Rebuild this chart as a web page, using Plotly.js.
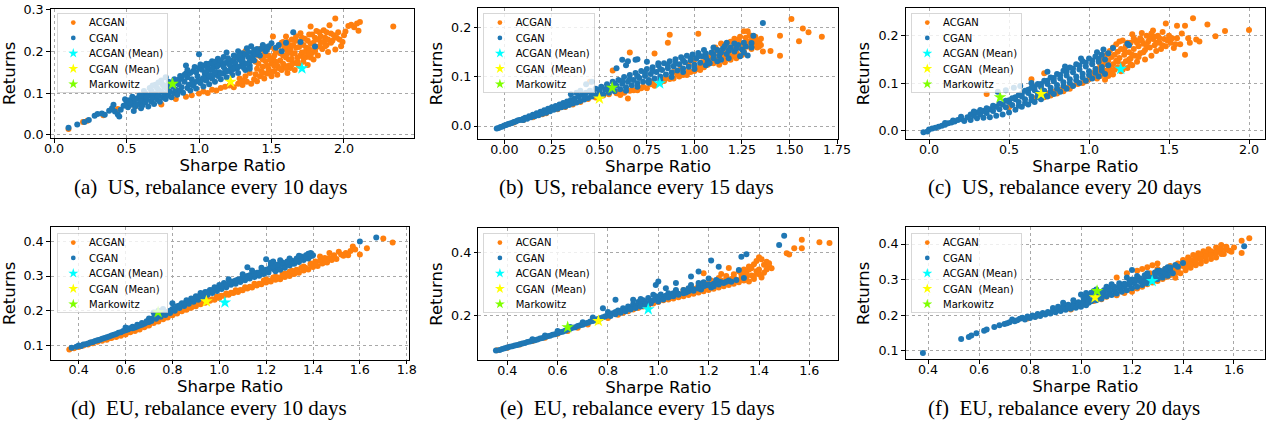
<!DOCTYPE html>
<html>
<head>
<meta charset="utf-8">
<script src="https://cdn.plot.ly/plotly-3.0.1.min.js"></script>
<style>
html,body{margin:0;padding:0;background:#fff;}
#chart{width:1266px;height:422px;}
</style>
</head>
<body>
<div id="chart"></div>
<script>
// ---------------- data (x = Sharpe Ratio, y = Returns) ----------------
const seriesNames = ['ACGAN', 'CGAN', 'ACGAN (Mean)', 'CGAN \u00a0(Mean)', 'Markowitz'];
const captions = ['(a)\u00a0\u00a0US, rebalance every 10 days', '(b)\u00a0\u00a0US, rebalance every 15 days', '(c)\u00a0\u00a0US, rebalance every 20 days',
                  '(d)\u00a0\u00a0EU, rebalance every 10 days', '(e)\u00a0\u00a0EU, rebalance every 15 days', '(f)\u00a0\u00a0EU, rebalance every 20 days'];

// (a) US, 10 days
const A_ACGAN = [[0.10,0.014],[0.20,0.031],[0.23,0.034],[0.34,0.047],[0.44,0.062],[0.56,0.068],[0.74,0.073],[0.84,0.086],[0.91,0.091],[0.95,0.095],[1.00,0.099],[1.03,0.104],[1.06,0.100],[1.09,0.108],[1.12,0.106],[1.15,0.112],[1.18,0.115],[1.21,0.118],[1.24,0.114],[1.27,0.122],[1.30,0.119],[1.33,0.127],[1.36,0.122],[1.28,0.135],[1.32,0.140],[1.35,0.148],[1.30,0.130],[1.25,0.185],[1.28,0.195],[1.32,0.200],
[1.38,0.133],[1.39,0.145],[1.40,0.158],[1.40,0.128],[1.41,0.170],[1.42,0.140],[1.43,0.185],[1.43,0.152],[1.44,0.163],[1.45,0.198],[1.45,0.135],[1.46,0.176],[1.47,0.147],[1.48,0.190],[1.48,0.158],[1.49,0.210],[1.50,0.170],[1.50,0.140],[1.51,0.235],[1.51,0.183],[1.52,0.153],[1.53,0.198],[1.54,0.165],[1.54,0.144],[1.55,0.212],[1.56,0.178],[1.57,0.155],[1.58,0.222],[1.58,0.190],[1.59,0.165],[1.60,0.235],[1.60,0.205],[1.61,0.148],[1.62,0.180],[1.62,0.215],[1.63,0.160],[1.64,0.228],[1.64,0.195],[1.65,0.172],[1.66,0.155],[1.67,0.236],[1.67,0.208],[1.68,0.185],[1.69,0.165],[1.70,0.243],[1.70,0.220],[1.71,0.197],[1.72,0.175],[1.73,0.230],[1.74,0.208],[1.74,0.186],[1.75,0.167],[1.76,0.240],[1.77,0.259],[1.77,0.218],[1.78,0.196],[1.79,0.180],[1.80,0.232],[1.81,0.210],[1.82,0.190],[1.83,0.245],[1.84,0.222],[1.85,0.205],[1.86,0.250],[1.87,0.232],[1.88,0.215],[1.89,0.198],[1.90,0.262],[1.91,0.242],[1.92,0.225],[1.94,0.278],[1.94,0.204],[1.96,0.245],[1.97,0.228],[1.98,0.212],[2.00,0.238],[2.01,0.247],[2.03,0.260],[2.05,0.263],[2.07,0.257],[2.09,0.266],[2.10,0.249],[2.11,0.270],[2.34,0.259],
[1.39,0.175],[1.41,0.190],[1.42,0.205],[1.44,0.180],[1.46,0.190],[1.47,0.165],[1.49,0.180],[1.50,0.150],[1.52,0.190],[1.52,0.205],[1.53,0.175],[1.55,0.160],[1.56,0.195],[1.57,0.220],[1.58,0.170],[1.59,0.210],[1.60,0.185],[1.61,0.195],[1.61,0.222],[1.62,0.165],[1.63,0.205],[1.64,0.182],[1.65,0.215],[1.66,0.195],[1.67,0.225],[1.68,0.170],[1.69,0.210],[1.70,0.190],[1.71,0.232],[1.72,0.215],[1.73,0.198],[1.75,0.225],[1.76,0.205],[1.77,0.185],[1.78,0.240],[1.79,0.220],[1.80,0.205],[1.81,0.248],[1.82,0.228],[1.83,0.212],[1.84,0.236],[1.86,0.222],[1.87,0.212],[1.88,0.245],[1.89,0.228],[1.91,0.220],[1.93,0.238],[1.95,0.232],[1.99,0.222],[1.44,0.148],[1.48,0.152],[1.52,0.165],[1.56,0.158],[1.60,0.160],[1.64,0.168],[1.68,0.175],[1.72,0.185],[1.76,0.195],[1.80,0.200]];
const A_CGAN = [[0.10,0.017],[0.16,0.025],[0.21,0.031],[0.24,0.036],[0.28,0.046],[0.30,0.050],[0.33,0.051],[0.35,0.048],[0.38,0.058],[0.40,0.064],[0.41,0.072],[0.42,0.056],[0.44,0.049],[0.45,0.044],[0.46,0.060],[0.48,0.070],[0.49,0.085],[0.50,0.076],
[0.51,0.066],[0.52,0.083],[0.53,0.072],[0.54,0.091],[0.55,0.057],[0.55,0.079],[0.56,0.068],[0.57,0.087],[0.58,0.074],[0.59,0.095],[0.60,0.064],[0.60,0.082],[0.61,0.071],[0.62,0.090],[0.63,0.099],[0.63,0.078],[0.64,0.085],[0.65,0.068],[0.66,0.094],[0.67,0.106],[0.67,0.080],[0.68,0.088],[0.69,0.074],[0.70,0.098],[0.71,0.112],[0.71,0.085],[0.72,0.093],[0.73,0.079],[0.74,0.104],[0.75,0.120],[0.75,0.090],[0.76,0.098],[0.77,0.086],[0.78,0.109],[0.79,0.127],[0.79,0.094],[0.80,0.103],[0.81,0.090],[0.82,0.115],[0.83,0.133],[0.83,0.100],[0.84,0.108],[0.85,0.096],[0.86,0.121],[0.87,0.141],[0.87,0.106],[0.88,0.114],[0.89,0.101],[0.90,0.127],[0.91,0.166],[0.91,0.147],[0.92,0.112],[0.93,0.120],[0.94,0.106],[0.95,0.133],[0.96,0.153],[0.96,0.118],[0.97,0.126],[0.98,0.111],[0.99,0.140],[1.00,0.193],[1.00,0.160],[1.01,0.124],[1.02,0.132],[1.03,0.116],[1.04,0.147],[1.05,0.170],[1.05,0.130],[1.06,0.138],[1.07,0.121],[1.08,0.155],[1.09,0.176],[1.09,0.135],[1.10,0.144],[1.11,0.127],[1.12,0.162],[1.13,0.182],[1.13,0.141],[1.14,0.150],[1.15,0.133],[1.16,0.168],[1.17,0.186],[1.17,0.147],[1.18,0.156],[1.19,0.197],[1.19,0.138],[1.20,0.174],[1.21,0.153],[1.22,0.162],[1.23,0.143],[1.24,0.190],[1.25,0.168],[1.26,0.158],[1.27,0.200],[1.27,0.148],[1.28,0.180],[1.29,0.165],[1.30,0.195],[1.31,0.172],[1.32,0.155],[1.33,0.207],[1.34,0.186],[1.35,0.165],[1.36,0.212],[1.37,0.196],[1.38,0.178],[1.40,0.205],[1.42,0.190],[1.44,0.215],[1.46,0.200],[1.48,0.212],[1.50,0.219],[1.53,0.208],[1.55,0.215],[1.57,0.200],[1.60,0.220],[1.65,0.245],[1.70,0.222],[1.80,0.211],
[0.62,0.105],[0.66,0.112],[0.70,0.120],[0.74,0.130],[0.77,0.138],[0.68,0.118],[0.72,0.125],
[0.52,0.078],[0.56,0.086],[0.60,0.093],[0.64,0.090],[0.68,0.100],[0.72,0.108],[0.76,0.115],[0.80,0.122],[0.84,0.128],[0.88,0.134],[0.92,0.138],[0.94,0.148],[0.98,0.150],[1.02,0.156],[1.03,0.165],[1.06,0.160],[1.07,0.170],[1.10,0.165],[1.11,0.175],[1.14,0.170],[1.15,0.178],[1.18,0.172],[1.20,0.183],[1.22,0.178],[1.24,0.176],[1.26,0.186],[1.28,0.190],[1.30,0.182],[1.32,0.192],[1.34,0.198],[1.35,0.176],[1.37,0.185],[1.38,0.203],[1.39,0.192],[1.41,0.198],[1.43,0.206],[1.45,0.210],[1.47,0.205],[0.90,0.144],[0.86,0.132],[0.82,0.124],[0.78,0.118],[0.92,0.155],[0.97,0.162],[1.01,0.168],[1.05,0.150],[1.09,0.158],[1.13,0.165],[1.17,0.162],[1.21,0.168],[1.25,0.172],[1.29,0.178],[1.33,0.170],[0.95,0.122],[0.99,0.128],[1.03,0.136],[1.07,0.142],[1.11,0.150],[1.15,0.146],[1.19,0.152],[1.23,0.156],[1.27,0.162],[1.31,0.160],[1.35,0.158]];
const A_ACGAN_MEAN = [[1.71,0.159]];
const A_CGAN_MEAN = [[1.218,0.127]];
const A_MARKOWITZ = [[0.817,0.122]];

// (b) US, 15 days
const B_ACGAN = [[0.05,0.007],[0.10,0.012],[0.15,0.018],[0.20,0.024],[0.22,0.026],[0.28,0.034],[0.32,0.039],[0.36,0.044],[0.40,0.049],[0.44,0.055],[0.45,0.090],[0.48,0.058],[0.52,0.062],[0.55,0.065],[0.57,0.113],[0.59,0.067],[0.61,0.063],[0.65,0.056],[0.66,0.150],[0.68,0.073],[0.70,0.073],[0.72,0.077],[0.75,0.077],[0.77,0.085],[0.79,0.082],[0.79,0.148],[0.82,0.088],[0.84,0.092],[0.86,0.170],[0.87,0.186],[0.87,0.096],[0.89,0.097],[0.89,0.110],[0.92,0.101],[0.94,0.104],[0.96,0.104],[0.98,0.110],[1.00,0.112],[1.02,0.188],[1.02,0.116],[1.03,0.114],[1.05,0.120],[1.06,0.128],[1.07,0.125],[1.08,0.140],[1.09,0.130],[1.10,0.128],[1.10,0.150],[1.11,0.160],[1.12,0.135],[1.13,0.145],[1.14,0.138],[1.14,0.168],[1.15,0.152],[1.16,0.142],[1.17,0.138],[1.17,0.160],[1.18,0.148],[1.19,0.172],[1.20,0.155],[1.20,0.142],[1.21,0.165],[1.22,0.150],[1.23,0.176],[1.23,0.145],[1.24,0.160],[1.25,0.168],[1.26,0.193],[1.26,0.152],[1.27,0.180],[1.28,0.193],[1.28,0.162],[1.29,0.172],[1.30,0.157],[1.31,0.177],[1.32,0.165],[1.33,0.160],[1.34,0.172],[1.35,0.165],[1.36,0.152],[1.40,0.153],[1.45,0.143],[1.45,0.184],[1.51,0.218],[1.55,0.173],[1.57,0.199],[1.60,0.191],[1.67,0.182],[0.93,0.118],[0.97,0.125],[1.00,0.135],[1.04,0.130],
[1.06,0.135],[1.09,0.145],[1.12,0.155],[1.15,0.165],[1.18,0.160],[1.21,0.178],[1.22,0.138],[1.24,0.182],[1.25,0.145],[1.27,0.170],[1.29,0.185],[1.30,0.175],[1.31,0.165],[1.32,0.182],[1.33,0.175],[1.34,0.162],[1.35,0.178],[1.19,0.135],[1.16,0.130],[1.13,0.125],[0.78,0.090],[0.85,0.098],[0.91,0.105],[0.97,0.112],[1.03,0.122],[0.60,0.070],[0.63,0.068],[0.66,0.072],[0.73,0.080]];
const B_CGAN = [[-0.04,-0.005],[-0.03,-0.004],[-0.02,-0.002],[-0.01,-0.001],[0.00,0.001],[0.01,0.002],[0.02,0.004],[0.03,0.005],[0.04,0.006],[0.05,0.008],[0.06,0.009],[0.07,0.011],[0.08,0.012],[0.09,0.013],[0.10,0.015],[0.10,0.012],[0.11,0.017],[0.12,0.015],[0.13,0.020],[0.14,0.018],[0.15,0.023],[0.16,0.020],[0.17,0.026],[0.18,0.022],[0.19,0.029],[0.20,0.025],[0.21,0.032],[0.22,0.027],[0.23,0.035],[0.24,0.030],[0.25,0.038],[0.26,0.033],[0.27,0.041],[0.28,0.035],[0.29,0.044],[0.30,0.038],[0.31,0.047],[0.32,0.040],[0.33,0.050],[0.34,0.043],[0.35,0.053],[0.36,0.046],[0.37,0.056],[0.38,0.048],[0.39,0.060],[0.40,0.051],[0.41,0.064],[0.42,0.054],[0.43,0.068],[0.44,0.057],[0.45,0.072],[0.46,0.060],[0.47,0.066],[0.48,0.076],[0.49,0.062],[0.50,0.070],[0.51,0.080],[0.52,0.064],[0.53,0.074],[0.54,0.085],[0.55,0.068],[0.56,0.078],[0.57,0.090],[0.58,0.071],[0.59,0.082],[0.60,0.094],[0.61,0.075],[0.62,0.086],[0.62,0.135],[0.63,0.100],[0.64,0.079],[0.65,0.090],[0.65,0.132],[0.66,0.104],[0.67,0.083],[0.68,0.094],[0.69,0.108],[0.70,0.136],[0.70,0.087],[0.71,0.098],[0.72,0.112],[0.73,0.090],[0.74,0.102],[0.75,0.116],[0.76,0.094],[0.77,0.106],[0.78,0.120],[0.79,0.097],[0.80,0.110],[0.81,0.124],[0.82,0.101],[0.83,0.114],[0.84,0.128],[0.85,0.105],[0.86,0.118],[0.87,0.132],[0.88,0.109],[0.89,0.122],[0.90,0.136],[0.91,0.113],[0.92,0.126],[0.93,0.140],[0.94,0.117],[0.95,0.130],[0.96,0.143],[0.97,0.121],[0.98,0.134],[0.99,0.146],[1.00,0.125],[1.01,0.138],[1.02,0.149],[1.03,0.129],[1.04,0.142],[1.06,0.148],[1.07,0.133],[1.09,0.150],[1.10,0.138],[1.12,0.155],[1.13,0.143],[1.15,0.158],[1.17,0.170],[1.17,0.147],[1.19,0.160],[1.21,0.152],[1.23,0.165],[1.25,0.156],[1.27,0.162],[1.28,0.144],[1.30,0.169],[1.31,0.184],[1.36,0.210],
[0.35,0.065],[0.40,0.072],[0.43,0.085],[0.46,0.090],[0.38,0.068],[0.59,0.118],[0.64,0.124],[0.69,0.135],[0.75,0.131],[0.81,0.128],
[0.42,0.060],[0.46,0.066],[0.50,0.074],[0.54,0.078],[0.58,0.086],[0.62,0.092],[0.66,0.096],[0.70,0.102],[0.74,0.108],[0.78,0.112],[0.82,0.116],[0.86,0.124],[0.90,0.128],[0.94,0.134],[0.98,0.138],[1.02,0.142],[1.06,0.140],[1.10,0.146],[1.14,0.150],[1.18,0.154],[1.22,0.158],[1.26,0.150],[1.30,0.160],[0.64,0.072],[0.70,0.080],[0.76,0.088],[0.82,0.094],[0.88,0.100],[0.94,0.110],[1.00,0.116],[1.06,0.124],[1.12,0.132],[1.18,0.138],[1.24,0.142],[1.05,0.155],[1.10,0.160],[1.16,0.163],[1.21,0.168],[1.26,0.170],[1.14,0.135],[1.08,0.128]];
const B_ACGAN_MEAN = [[0.817,0.087]];
const B_CGAN_MEAN = [[0.50,0.056]];
const B_MARKOWITZ = [[0.567,0.078]];

// (c) US, 20 days
const C_ACGAN = [[0.36,0.077],[0.50,0.049],[0.64,0.108],[0.68,0.074],[0.72,0.121],[0.74,0.078],[0.78,0.082],[0.82,0.086],[0.86,0.090],[0.90,0.095],[0.93,0.098],[0.96,0.100],[0.98,0.104],[1.00,0.108],[1.02,0.112],[1.04,0.118],[1.05,0.110],[1.06,0.125],[1.07,0.115],[1.08,0.132],[1.09,0.120],[1.10,0.107],[1.10,0.140],[1.11,0.126],[1.12,0.148],[1.12,0.115],[1.13,0.133],[1.14,0.155],[1.14,0.122],[1.15,0.140],[1.16,0.160],[1.16,0.128],[1.17,0.147],[1.18,0.166],[1.18,0.133],[1.19,0.153],[1.20,0.172],[1.20,0.125],[1.21,0.140],[1.22,0.160],[1.23,0.178],[1.23,0.146],[1.24,0.132],[1.25,0.165],[1.26,0.185],[1.26,0.152],[1.27,0.203],[1.27,0.138],[1.28,0.172],[1.29,0.190],[1.29,0.158],[1.30,0.145],[1.31,0.178],[1.32,0.195],[1.32,0.163],[1.33,0.206],[1.34,0.183],[1.35,0.150],[1.35,0.170],[1.36,0.200],[1.37,0.188],[1.38,0.175],[1.39,0.158],[1.40,0.211],[1.40,0.193],[1.41,0.180],[1.42,0.168],[1.43,0.200],[1.44,0.185],[1.45,0.172],[1.46,0.208],[1.47,0.193],[1.48,0.226],[1.48,0.178],[1.50,0.200],[1.51,0.185],[1.53,0.174],[1.55,0.221],[1.55,0.195],[1.57,0.182],[1.58,0.205],[1.60,0.221],[1.60,0.160],[1.62,0.195],[1.63,0.185],[1.65,0.237],[1.67,0.192],[1.69,0.188],[1.74,0.224],[1.79,0.199],[1.85,0.210],[2.00,0.212],
[1.03,0.122],[1.05,0.130],[1.07,0.140],[1.09,0.150],[1.11,0.160],[1.13,0.168],[1.15,0.175],[1.17,0.182],[1.19,0.188],[1.21,0.190],[1.22,0.170],[1.24,0.185],[1.25,0.150],[1.27,0.160],[1.28,0.195],[1.30,0.185],[1.31,0.155],[1.33,0.190],[1.34,0.165],[1.36,0.180],[1.38,0.195],[1.39,0.205],[1.41,0.198],[1.42,0.185],[1.44,0.195],[1.46,0.180],[1.49,0.190],[1.52,0.195],[1.54,0.182],[1.12,0.128],[1.15,0.118],[1.18,0.145],[1.21,0.128],[1.26,0.140],[0.66,0.068],[0.72,0.070],[0.76,0.074],[0.80,0.078],[0.84,0.083],[0.88,0.088]];
const C_CGAN = [[-0.035,-0.004],[-0.01,-0.002],[0.00,0.002],[0.02,0.004],[0.04,0.006],[0.06,0.008],[0.08,0.010],[0.10,0.012],[0.12,0.015],[0.14,0.017],[0.16,0.019],[0.18,0.022],[0.20,0.024],[0.10,0.016],[0.15,0.021],[0.20,0.029],
[0.22,0.020],[0.26,0.022],[0.30,0.026],[0.34,0.027],[0.38,0.028],[0.42,0.031],[0.46,0.034],[0.50,0.038],[0.54,0.044],[0.58,0.050],[0.62,0.055],[0.66,0.060],[0.70,0.066],[0.74,0.072],[0.78,0.077],[0.82,0.082],[0.86,0.088],[0.90,0.094],[0.94,0.100],[0.98,0.105],[1.02,0.110],[1.06,0.114],[1.10,0.119],
[0.56,0.052],[0.60,0.058],[0.64,0.064],[0.68,0.070],[0.72,0.076],[0.76,0.082],[0.80,0.088],[0.84,0.094],[0.88,0.100],[0.92,0.106],[0.96,0.112],[1.00,0.117],[1.04,0.122],[1.08,0.126],
[0.24,0.028],[0.28,0.031],[0.32,0.034],[0.36,0.037],[0.40,0.041],[0.44,0.045],[0.48,0.049],[0.52,0.054],[0.56,0.060],[0.60,0.066],[0.64,0.072],[0.68,0.078],[0.72,0.084],[0.76,0.090],[0.80,0.096],[0.84,0.102],[0.88,0.108],[0.92,0.114],[0.96,0.120],[1.00,0.125],[1.04,0.130],[1.08,0.134],[1.12,0.138],
[0.26,0.034],[0.30,0.038],[0.34,0.041],[0.38,0.045],[0.42,0.050],[0.46,0.055],[0.50,0.060],[0.54,0.066],[0.58,0.072],[0.62,0.079],[0.66,0.085],[0.70,0.092],[0.74,0.098],[0.78,0.104],[0.82,0.110],[0.86,0.116],[0.90,0.123],[0.94,0.129],[0.98,0.135],[1.02,0.140],[1.06,0.145],[1.10,0.150],
[0.50,0.064],[0.54,0.070],[0.58,0.078],[0.62,0.086],[0.66,0.092],[0.70,0.098],[0.74,0.105],[0.78,0.111],[0.82,0.117],[0.86,0.124],[0.90,0.131],[0.94,0.137],[0.98,0.143],[1.02,0.148],[1.06,0.152],
[0.28,0.040],[0.32,0.043],[0.36,0.047],[0.40,0.052],[0.44,0.057],[0.48,0.063],[0.52,0.068],[0.56,0.075],[0.60,0.084],[0.64,0.090],[0.68,0.098],[0.72,0.105],[0.76,0.112],[0.80,0.119],[0.84,0.126],[0.88,0.133],[0.92,0.140],[0.96,0.146],[1.00,0.152],[1.04,0.156],[1.08,0.160],[1.12,0.163],
[0.43,0.082],[0.48,0.085],[0.74,0.124],[0.64,0.100],[1.15,0.174],[1.24,0.183],[1.25,0.180],[1.09,0.171],[1.05,0.165],[0.85,0.135],[0.95,0.152],[0.53,0.090],[0.57,0.094]];
const C_ACGAN_MEAN = [[1.198,0.130]];
const C_CGAN_MEAN = [[0.70,0.077]];
const C_MARKOWITZ = [[0.444,0.070]];

// (d) EU, 10 days
const D_ACGAN = [[0.36,0.089],[0.38,0.092],[0.40,0.096],[0.42,0.100],[0.44,0.103],[0.46,0.107],[0.48,0.111],[0.50,0.114],[0.52,0.117],[0.54,0.122],[0.56,0.125],[0.58,0.128],[0.60,0.132],[0.62,0.138],[0.64,0.142],[0.66,0.146],[0.68,0.153],[0.70,0.158],[0.72,0.165],[0.74,0.169],[0.76,0.176],[0.78,0.181],[0.80,0.187],[0.82,0.192],[0.84,0.199],[0.86,0.203],[0.88,0.209],[0.90,0.213],[0.92,0.219],[0.94,0.223],[0.96,0.229],[0.98,0.232],[1.00,0.237],[1.02,0.243],[1.04,0.246],[1.06,0.251],[1.08,0.254],[1.10,0.259],[1.11,0.298],[1.12,0.264],[1.14,0.267],[1.16,0.273],[1.18,0.276],[1.20,0.281],[1.22,0.284],[1.24,0.289],[1.26,0.291],[1.28,0.297],[1.30,0.300],[1.32,0.306],[1.34,0.309],[1.36,0.316],[1.38,0.319],[1.40,0.326],[1.42,0.329],[1.44,0.336],[1.46,0.339],[1.48,0.346],[1.50,0.349],
[1.20,0.290],[1.24,0.298],[1.28,0.307],[1.30,0.312],[1.33,0.318],[1.36,0.327],[1.39,0.336],[1.41,0.342],[1.43,0.356],[1.45,0.352],[1.47,0.366],[1.49,0.360],[1.51,0.370],[1.54,0.366],[1.55,0.360],[1.57,0.385],[1.58,0.376],[1.63,0.380],[1.70,0.408],[1.74,0.396],
[0.41,0.099],[0.45,0.108],[0.49,0.116],[0.53,0.122],[0.57,0.130],[0.61,0.138],[0.65,0.147],[0.69,0.158],[0.73,0.170],[0.77,0.181],[0.81,0.193],[0.85,0.204],[0.89,0.214],[0.93,0.224],[0.97,0.233],[1.01,0.243],[1.05,0.252],[1.09,0.260],[1.13,0.269],[1.17,0.278],[1.21,0.287],[1.25,0.296],[1.29,0.305],[1.33,0.314],[1.37,0.323],[1.41,0.333],[1.45,0.342],[1.49,0.352],[1.53,0.358],
[0.87,0.212],[0.91,0.222],[0.95,0.232],[0.99,0.242],[1.03,0.250],[1.07,0.259],[1.11,0.268],[1.15,0.278],[1.19,0.287],[1.23,0.296],[1.27,0.305],[1.31,0.315],[1.35,0.324],[1.39,0.334],[1.43,0.344],[1.47,0.352],[1.52,0.362],[1.56,0.372],[1.60,0.362]];
const D_CGAN = [[0.37,0.094],[0.39,0.097],[0.40,0.100],[0.41,0.099],[0.42,0.103],[0.43,0.104],[0.44,0.106],[0.45,0.109],[0.46,0.110],[0.47,0.113],[0.48,0.115],[0.49,0.117],[0.50,0.120],[0.51,0.122],[0.52,0.124],[0.53,0.126],[0.54,0.129],[0.55,0.131],[0.56,0.133],[0.57,0.137],[0.58,0.138],[0.59,0.142],[0.60,0.144],[0.60,0.152],[0.61,0.146],[0.62,0.150],[0.63,0.154],[0.64,0.152],[0.65,0.160],[0.66,0.158],[0.67,0.165],[0.68,0.163],[0.69,0.170],[0.70,0.168],[0.70,0.178],[0.71,0.174],[0.72,0.180],[0.73,0.177],[0.74,0.186],[0.75,0.183],[0.76,0.191],[0.77,0.188],[0.78,0.197],[0.79,0.194],[0.80,0.205],[0.80,0.222],[0.81,0.200],[0.82,0.213],[0.83,0.208],[0.84,0.222],[0.85,0.214],[0.86,0.230],[0.87,0.220],[0.88,0.235],[0.89,0.226],[0.90,0.242],[0.91,0.232],[0.92,0.251],[0.93,0.240],[0.94,0.254],[0.95,0.246],[0.96,0.260],[0.97,0.251],[0.98,0.268],[0.99,0.257],[1.00,0.274],[1.01,0.263],[1.02,0.280],[1.03,0.268],[1.04,0.291],[1.05,0.275],[1.06,0.284],[1.07,0.278],[1.08,0.290],[1.09,0.283],[1.10,0.296],[1.11,0.288],[1.12,0.325],[1.12,0.300],[1.13,0.293],[1.14,0.305],[1.15,0.297],[1.16,0.309],[1.17,0.301],[1.18,0.313],[1.19,0.306],[1.20,0.348],[1.20,0.318],[1.21,0.310],[1.22,0.330],[1.23,0.342],[1.23,0.320],[1.24,0.314],[1.25,0.326],[1.26,0.318],[1.27,0.332],[1.28,0.324],[1.29,0.337],[1.30,0.330],[1.31,0.344],[1.32,0.335],[1.33,0.350],[1.34,0.340],[1.35,0.356],[1.36,0.346],[1.37,0.360],[1.38,0.350],[1.39,0.366],[1.40,0.360],[1.60,0.399],[1.67,0.411],
[0.72,0.195],[0.74,0.200],[0.76,0.205],
[0.61,0.149],[0.63,0.150],[0.65,0.155],[0.67,0.160],[0.69,0.166],[0.71,0.171],[0.73,0.183],[0.75,0.188],[0.77,0.193],[0.79,0.200],[0.81,0.207],[0.83,0.215],[0.85,0.221],[0.87,0.228],[0.89,0.234],[0.91,0.241],[0.93,0.247],[0.95,0.253],[0.97,0.259],[0.99,0.265],[1.01,0.271],[1.03,0.276],[1.05,0.283],[1.07,0.287],[1.09,0.291],[1.11,0.296],[1.13,0.302],[1.15,0.306],[1.17,0.310],[1.19,0.315],[1.21,0.320],[1.23,0.328],[1.25,0.333],[1.27,0.339],[1.29,0.342],[1.31,0.336],[1.33,0.343],[1.35,0.348],[1.37,0.352],[1.39,0.357],[1.22,0.338],[1.26,0.345],[1.30,0.350],[1.34,0.358],[1.38,0.364],[1.18,0.324],[1.14,0.316],[1.10,0.305]];
const D_ACGAN_MEAN = [[1.024,0.224]];
const D_CGAN_MEAN = [[0.945,0.227]];
const D_MARKOWITZ = [[0.739,0.196]];

// (e) EU, 15 days
const E_ACGAN = [[0.36,0.089],[0.40,0.097],[0.45,0.107],[0.50,0.118],[0.55,0.129],[0.60,0.141],[0.64,0.150],[0.68,0.160],[0.72,0.171],[0.76,0.181],[0.80,0.191],[0.84,0.202],[0.88,0.213],[0.92,0.223],[0.96,0.230],[0.98,0.237],[1.00,0.242],[1.02,0.248],[1.03,0.255],[1.04,0.250],[1.05,0.258],[1.06,0.253],[1.07,0.262],[1.08,0.257],[1.09,0.266],[1.10,0.260],[1.11,0.270],[1.12,0.264],[1.13,0.274],[1.14,0.268],[1.15,0.278],[1.16,0.272],[1.17,0.282],[1.18,0.333],[1.18,0.276],[1.19,0.287],[1.20,0.280],[1.21,0.291],[1.22,0.284],[1.23,0.295],[1.24,0.288],[1.25,0.300],[1.26,0.292],[1.27,0.304],[1.28,0.350],[1.28,0.296],[1.29,0.309],[1.30,0.300],[1.31,0.313],[1.32,0.305],[1.33,0.318],[1.34,0.310],[1.35,0.322],[1.36,0.307],[1.37,0.349],[1.37,0.326],[1.38,0.315],[1.39,0.340],[1.40,0.384],[1.40,0.330],[1.41,0.378],[1.41,0.320],[1.42,0.360],[1.43,0.370],[1.43,0.345],[1.44,0.355],[1.45,0.349],[1.51,0.397],[1.52,0.393],[1.54,0.413],[1.57,0.440],[1.57,0.413],[1.64,0.432],[1.68,0.429],
[1.10,0.272],[1.15,0.285],[1.20,0.295],[1.25,0.310],[1.30,0.320],[1.33,0.330],[1.22,0.305],[1.27,0.315],[1.35,0.335],[1.36,0.345],[1.25,0.331],
[1.04,0.262],[1.07,0.270],[1.10,0.280],[1.13,0.288],[1.16,0.295],[1.19,0.300],[1.21,0.310],[1.24,0.318],[1.27,0.325],[1.30,0.330],[1.32,0.340],[1.34,0.345],[1.36,0.355],[1.38,0.362],[1.39,0.372],[1.40,0.345],[1.42,0.335],[1.44,0.365],[1.38,0.325],[1.17,0.290],[1.23,0.302],[1.29,0.315],[0.90,0.218],[0.94,0.228],[0.86,0.208]];
const E_CGAN = [[0.355,0.088],[0.37,0.090],[0.38,0.093],[0.39,0.095],[0.40,0.098],[0.41,0.100],[0.42,0.102],[0.43,0.104],[0.44,0.106],[0.45,0.108],[0.46,0.110],[0.47,0.112],[0.48,0.115],[0.49,0.117],[0.50,0.119],[0.50,0.124],[0.51,0.121],[0.52,0.123],[0.53,0.126],[0.54,0.128],[0.55,0.131],[0.55,0.136],[0.56,0.133],[0.57,0.135],[0.58,0.138],[0.59,0.140],[0.60,0.143],[0.60,0.150],[0.61,0.146],[0.62,0.148],[0.63,0.151],[0.64,0.155],[0.65,0.157],[0.65,0.163],[0.66,0.160],[0.67,0.162],[0.68,0.166],[0.69,0.168],[0.70,0.170],[0.70,0.178],[0.71,0.174],[0.72,0.176],[0.73,0.180],[0.74,0.193],[0.74,0.182],[0.75,0.185],[0.76,0.188],[0.77,0.190],[0.78,0.222],[0.78,0.194],[0.79,0.197],[0.80,0.200],[0.80,0.210],[0.81,0.203],[0.82,0.206],[0.83,0.249],[0.83,0.210],[0.84,0.215],[0.85,0.213],[0.86,0.222],[0.87,0.218],[0.88,0.228],[0.89,0.224],[0.90,0.235],[0.91,0.228],[0.92,0.242],[0.93,0.234],[0.94,0.248],[0.95,0.240],[0.96,0.255],[0.97,0.246],[0.99,0.296],[0.99,0.260],[1.00,0.307],[1.00,0.252],[1.01,0.266],[1.02,0.258],[1.04,0.270],[1.05,0.262],[1.07,0.302],[1.07,0.275],[1.08,0.268],[1.10,0.280],[1.11,0.272],[1.13,0.323],[1.13,0.285],[1.14,0.278],[1.16,0.339],[1.16,0.290],[1.17,0.282],[1.19,0.295],[1.21,0.374],[1.21,0.288],[1.22,0.300],[1.24,0.354],[1.25,0.305],[1.28,0.310],[1.32,0.344],[1.33,0.386],[1.35,0.394],[1.48,0.423],[1.50,0.452],
[0.90,0.249],[0.93,0.252],[0.98,0.265],[1.03,0.286],[1.07,0.280],[1.13,0.296],[1.16,0.302],[1.20,0.317],[1.24,0.307],[1.27,0.306],
[0.81,0.198],[0.83,0.203],[0.85,0.208],[0.87,0.213],[0.89,0.218],[0.91,0.223],[0.93,0.228],[0.95,0.233],[0.97,0.238],[0.98,0.248],[1.00,0.244],[1.02,0.250],[1.03,0.262],[1.04,0.256],[1.06,0.260],[1.06,0.270],[1.08,0.265],[1.10,0.270],[1.12,0.276],[1.12,0.286],[1.14,0.282],[1.16,0.285],[1.18,0.292],[1.20,0.298],[1.22,0.292],[1.24,0.298],[1.26,0.302],[1.29,0.306],[1.31,0.312],[1.34,0.318],[1.18,0.305],[1.23,0.312]];
const E_ACGAN_MEAN = [[0.96,0.219]];
const E_CGAN_MEAN = [[0.762,0.182]];
const E_MARKOWITZ = [[0.64,0.162]];

// (f) EU, 20 days
const F_ACGAN = [[0.79,0.191],[0.82,0.196],[0.96,0.216],[0.99,0.233],[1.00,0.232],[1.05,0.240],[1.08,0.245],[1.10,0.252],[1.14,0.256],[1.17,0.262],[1.20,0.266],[1.22,0.275],[1.24,0.280],[1.26,0.287],[1.27,0.318],[1.28,0.292],[1.30,0.296],[1.31,0.320],[1.32,0.302],[1.33,0.330],[1.34,0.308],[1.35,0.313],[1.35,0.338],[1.36,0.322],[1.37,0.305],[1.38,0.330],[1.38,0.345],[1.39,0.318],[1.40,0.338],[1.40,0.355],[1.41,0.326],[1.42,0.346],[1.42,0.362],[1.43,0.333],[1.44,0.352],[1.44,0.369],[1.45,0.340],[1.46,0.360],[1.46,0.374],[1.47,0.345],[1.48,0.366],[1.48,0.380],[1.49,0.352],[1.50,0.372],[1.50,0.385],[1.51,0.358],[1.52,0.376],[1.53,0.390],[1.53,0.362],[1.54,0.380],[1.55,0.397],[1.56,0.372],[1.57,0.385],[1.59,0.378],[1.60,0.390],[1.63,0.409],[1.63,0.375],[1.66,0.416],
[1.24,0.330],[1.28,0.340],[1.30,0.345],[1.26,0.335],[1.22,0.325],[1.18,0.318],[1.14,0.306],
[1.36,0.330],[1.37,0.318],[1.39,0.340],[1.41,0.350],[1.41,0.336],[1.43,0.355],[1.43,0.342],[1.45,0.365],[1.45,0.350],[1.47,0.370],[1.47,0.358],[1.49,0.375],[1.49,0.365],[1.51,0.380],[1.51,0.368],[1.53,0.375],[1.55,0.385],[1.55,0.372],[1.57,0.392],[1.58,0.382],[1.34,0.322],[1.32,0.315],[1.30,0.330],[1.28,0.305],[1.26,0.300],[1.24,0.292]];
const F_CGAN = [[0.38,0.094],[0.53,0.133],[0.56,0.139],[0.57,0.143],[0.59,0.149],[0.62,0.156],[0.63,0.160],[0.66,0.167],[0.68,0.172],[0.70,0.175],[0.71,0.177],[0.72,0.180],[0.73,0.188],[0.74,0.183],[0.75,0.186],[0.76,0.190],[0.77,0.193],[0.78,0.188],[0.79,0.196],[0.80,0.192],[0.81,0.199],[0.82,0.195],[0.83,0.203],[0.84,0.198],[0.85,0.206],[0.86,0.202],[0.87,0.209],[0.88,0.205],[0.89,0.220],[0.89,0.212],[0.90,0.208],[0.91,0.224],[0.91,0.215],[0.92,0.212],[0.93,0.226],[0.93,0.218],[0.94,0.215],[0.95,0.229],[0.95,0.221],[0.96,0.218],[0.97,0.232],[0.97,0.224],[0.98,0.221],[0.99,0.236],[0.99,0.227],[1.00,0.224],[1.01,0.240],[1.01,0.231],[1.02,0.249],[1.02,0.228],[1.03,0.243],[1.03,0.235],[1.04,0.263],[1.04,0.239],[1.05,0.247],[1.06,0.253],[1.06,0.242],[1.07,0.250],[1.08,0.257],[1.08,0.246],[1.09,0.262],[1.10,0.253],[1.11,0.266],[1.12,0.257],[1.13,0.270],[1.14,0.261],[1.15,0.275],[1.16,0.266],[1.17,0.279],[1.18,0.270],[1.19,0.285],[1.20,0.327],[1.20,0.276],[1.21,0.290],[1.22,0.280],[1.23,0.296],[1.24,0.285],[1.25,0.302],[1.26,0.290],[1.27,0.306],[1.28,0.296],[1.29,0.310],[1.30,0.301],[1.31,0.315],[1.32,0.306],[1.33,0.320],[1.34,0.311],[1.35,0.325],[1.37,0.341],[1.40,0.347],[1.64,0.394],
[1.00,0.258],[1.05,0.268],[1.10,0.280],[1.15,0.290],[1.20,0.300],[1.25,0.312],[1.30,0.325],[1.34,0.335],
[1.01,0.250],[1.03,0.256],[1.05,0.260],[1.07,0.262],[1.09,0.270],[1.11,0.275],[1.13,0.280],[1.15,0.283],[1.17,0.288],[1.19,0.294],[1.21,0.299],[1.23,0.304],[1.25,0.292],[1.27,0.297],[1.29,0.320],[1.31,0.325],[1.33,0.330],[1.35,0.334],[1.36,0.318],[1.38,0.336],[1.02,0.262],[1.06,0.272],[1.12,0.287],[1.18,0.306],[1.22,0.310],[1.26,0.318],[0.97,0.242],[0.93,0.235]];
const F_ACGAN_MEAN = [[1.279,0.296]];
const F_CGAN_MEAN = [[1.055,0.250]];
const F_MARKOWITZ = [[1.063,0.268]];

// tick settings per panel
const xTick0 = [0, 0, 0, 0.4, 0.4, 0.4];
const xDtick = [0.5, 0.25, 0.5, 0.2, 0.2, 0.2];
const xFormat = ['.1f', '.2f', '.1f', '.1f', '.1f', '.1f'];
const yTick0 = [0, 0, 0, 0.1, 0.2, 0.1];
const yDtick = [0.1, 0.1, 0.1, 0.1, 0.2, 0.1];
const xRanges = [[-0.023, 2.485], [-0.137, 1.755], [-0.146, 2.1], [0.2805, 1.811], [0.285, 1.715], [0.3125, 1.7216]];
const yRanges = [[-0.008, 0.302], [-0.0265, 0.240], [-0.018, 0.258], [0.06, 0.44], [0.058, 0.476], [0.076, 0.447]];

// ---------------- build ----------------
const W = 1266, H = 422;
const panels = [
  [A_ACGAN, A_CGAN, A_ACGAN_MEAN, A_CGAN_MEAN, A_MARKOWITZ],
  [B_ACGAN, B_CGAN, B_ACGAN_MEAN, B_CGAN_MEAN, B_MARKOWITZ],
  [C_ACGAN, C_CGAN, C_ACGAN_MEAN, C_CGAN_MEAN, C_MARKOWITZ],
  [D_ACGAN, D_CGAN, D_ACGAN_MEAN, D_CGAN_MEAN, D_MARKOWITZ],
  [E_ACGAN, E_CGAN, E_ACGAN_MEAN, E_CGAN_MEAN, E_MARKOWITZ],
  [F_ACGAN, F_CGAN, F_ACGAN_MEAN, F_CGAN_MEAN, F_MARKOWITZ]
];
// plot frames in pixels: [left, right, top, bottom]
const frames = [
  [50.7, 414.3, 8.5, 138.3], [478.3, 838, 8.3, 139], [905.7, 1265, 8.3, 139],
  [50.7, 409.3, 227.3, 359.5], [478.3, 838.3, 228.3, 360], [905.7, 1265, 227.3, 359.3]
];
const legendPos = [[56.7, 13.3], [483.3, 13.3], [910.7, 13.3], [56.7, 233.3], [483.3, 233.3], [910.7, 233.3]];
const captionPos = [[210, 187], [636, 187], [1064, 187], [209, 407.5], [637, 407.5], [1064, 407.5]];

const colors = ['#ff7f0e', '#1f77b4', '#00ffff', '#ffff00', '#7fff00'];
const symbols = ['circle', 'circle', 'star', 'star', 'star'];
const sizes = [6, 6, 9.5, 9.5, 9.5];

const data = [];
const layout = {
  width: W, height: H,
  margin: {l: 0, r: 0, t: 0, b: 0},
  paper_bgcolor: '#ffffff', plot_bgcolor: '#ffffff',
  font: {family: 'DejaVu Sans', color: '#000000'},
  showlegend: true,
  annotations: []
};

panels.forEach((series, i) => {
  const n = i + 1;
  const xa = 'xaxis' + (n === 1 ? '' : n), ya = 'yaxis' + (n === 1 ? '' : n);
  const xr = 'x' + (n === 1 ? '' : n), yr = 'y' + (n === 1 ? '' : n);
  const lg = 'legend' + (n === 1 ? '' : n);
  const fr = frames[i];
  series.forEach((pts, k) => {
    data.push({
      type: 'scatter', mode: 'markers',
      x: pts.map(p => p[0]), y: pts.map(p => p[1]),
      name: seriesNames[k], xaxis: xr, yaxis: yr, legend: lg,
      marker: {color: colors[k], size: sizes[k], symbol: symbols[k], line: {width: 0}},
      hoverinfo: 'skip'
    });
  });
  const common = {
    showline: true, mirror: true, linecolor: '#000000', linewidth: 1,
    ticks: 'outside', ticklen: 3.5, tickwidth: 1, tickcolor: '#000000',
    showgrid: true, gridcolor: '#a8a8a8', gridwidth: 1, griddash: 'dot',
    zeroline: false, tickfont: {family: 'DejaVu Sans', size: 12.7, color: '#000000'},
    fixedrange: true
  };
  layout[xa] = Object.assign({}, common, {
    domain: [fr[0] / W, fr[1] / W], anchor: yr, range: xRanges[i],
    tick0: xTick0[i], dtick: xDtick[i], tickformat: xFormat[i], ticklabelstandoff: -5,
    title: {text: 'Sharpe Ratio', font: {family: 'DejaVu Sans', size: 16.5, color: '#000000'}, standoff: 1}
  });
  layout[ya] = Object.assign({}, common, {
    domain: [1 - fr[3] / H, 1 - fr[2] / H], anchor: xr, range: yRanges[i],
    tick0: yTick0[i], dtick: yDtick[i], tickformat: '.1f',
    title: {text: 'Returns', font: {family: 'DejaVu Sans', size: 16.5, color: '#000000'}, standoff: 4}
  });
  layout[lg] = {
    x: legendPos[i][0] / W, y: 1 - legendPos[i][1] / H, xanchor: 'left', yanchor: 'top',
    xref: 'paper', yref: 'paper',
    bgcolor: 'rgba(255,255,255,0.8)', bordercolor: '#cccccc', borderwidth: 1,
    font: {family: 'DejaVu Sans', size: 12.66, color: '#000000'},
    itemsizing: 'trace', tracegroupgap: 0
  };
  layout.annotations.push({
    xref: 'paper', yref: 'paper', x: captionPos[i][0] / W, y: 1 - captionPos[i][1] / H,
    xanchor: 'center', yanchor: 'middle', showarrow: false,
    text: captions[i], font: {family: 'Liberation Serif', size: 21, color: '#000000'}
  });
});

Plotly.newPlot('chart', data, layout, {staticPlot: true, displayModeBar: false, responsive: false}).then(gd => {
  // compact matplotlib-style legend boxes: smaller scale, tighter padding
  const groups = gd.querySelectorAll('.infolayer > g');
  groups.forEach(g => {
    const cls = (g.getAttribute('class') || '').trim();
    if (!/^legend\d*$/.test(cls)) return;
    try {
      const bg = g.querySelector('rect.bg');
      if (bg) {
        const h = parseFloat(bg.getAttribute('height'));
        if (isFinite(h)) bg.setAttribute('height', h - 9.5);
      }
      const sb = g.querySelector('g.scrollbox');
      if (sb) {
        const st = sb.getAttribute('transform') || '';
        sb.setAttribute('transform', st + ' translate(0,-4)');
      }
    } catch (e) {}
    const t = g.getAttribute('transform') || '';
    g.setAttribute('transform', t + ' scale(0.79)');
  });
});
</script>
</body>
</html>
